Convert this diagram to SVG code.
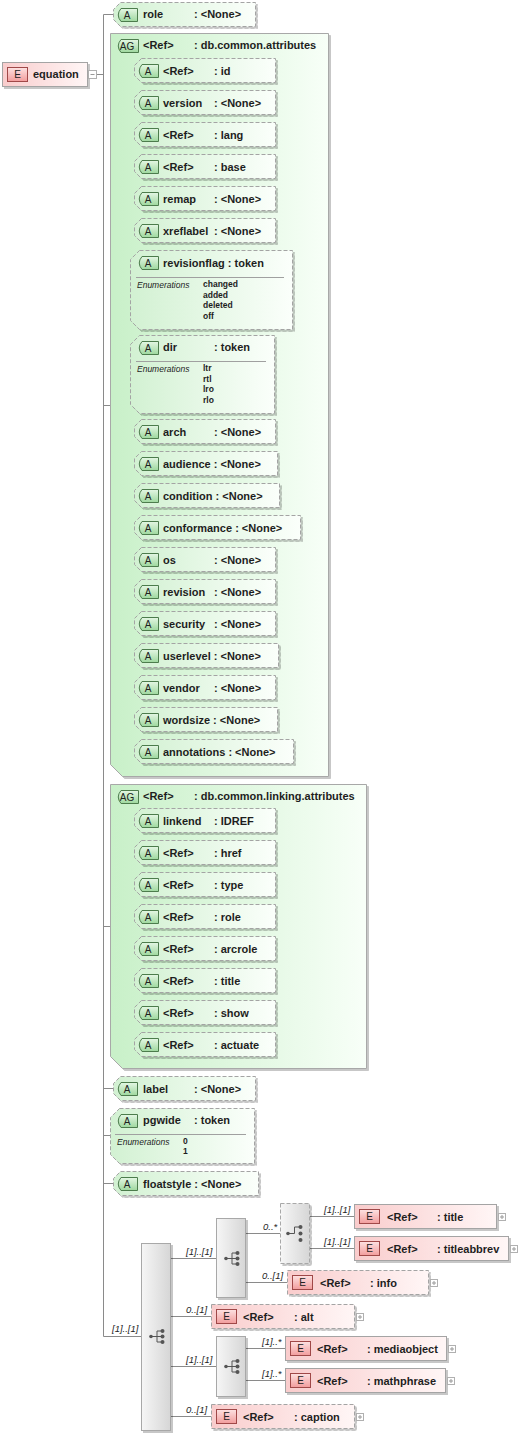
<svg xmlns="http://www.w3.org/2000/svg" xmlns:xlink="http://www.w3.org/1999/xlink" width="519" height="1435" viewBox="0 0 519 1435">
<defs>
<linearGradient id="gA" x1="0" y1="0" x2="1" y2="0"><stop offset="0" stop-color="#d2f1d2"/><stop offset="1" stop-color="#fbfffb"/></linearGradient>
<linearGradient id="gAG" x1="0" y1="0" x2="1" y2="0"><stop offset="0" stop-color="#c8f0c8"/><stop offset="1" stop-color="#f8fff8"/></linearGradient>
<linearGradient id="gE" x1="0" y1="0" x2="1" y2="0"><stop offset="0" stop-color="#f9cccc"/><stop offset="1" stop-color="#fff6f6"/></linearGradient>
<linearGradient id="gS" x1="0" y1="0" x2="1" y2="0"><stop offset="0" stop-color="#f6f6f6"/><stop offset="1" stop-color="#d6d6d6"/></linearGradient>
<linearGradient id="gBA" x1="0" y1="0" x2="0" y2="1"><stop offset="0" stop-color="#e4f7e4"/><stop offset="1" stop-color="#9ed89e"/></linearGradient>
<linearGradient id="gBE" x1="0" y1="0" x2="0" y2="1"><stop offset="0" stop-color="#fde2e2"/><stop offset="1" stop-color="#f29c9c"/></linearGradient>
<filter id="sh" x="-10%" y="-10%" width="130%" height="130%"><feDropShadow dx="2" dy="2" stdDeviation="0.5" flood-color="#000" flood-opacity="0.22"/></filter>
<path id="bA" d="M6 0.5 H22.5 V13.5 H6 Q0.5 7 6 0.5 Z"/>
<path id="bAG" d="M6 0.5 H23.5 V13.5 H6 Q0.5 7 6 0.5 Z"/>
<rect id="bE" x="0.5" y="0.5" width="20" height="14"/>
<g id="plus"><rect x="0.5" y="0.5" width="7" height="7" fill="#fff" stroke="#b0b0b0"/><path d="M2 4 H6 M4 2 V6" stroke="#999" fill="none"/></g>
<g id="seqIcon" fill="#555" stroke="#555"><path d="M-5 0 H1 M1 -5.5 V5.5 M1 -5.5 H6 M1 0 H6 M1 5.5 H6" fill="none"/><circle cx="-5" cy="0" r="1.8" stroke="none"/><circle cx="6.5" cy="-5.5" r="2" stroke="none"/><circle cx="6.5" cy="0" r="2" stroke="none"/><circle cx="6.5" cy="5.5" r="2" stroke="none"/></g>
<g id="choiceIcon" fill="#555" stroke="#555"><path d="M-6 0 H0.5 V-6.5 H6" fill="none"/><circle cx="-6" cy="0" r="1.8" stroke="none"/><circle cx="6.5" cy="-6.5" r="2" stroke="none"/><circle cx="6.5" cy="0" r="2" stroke="none"/><circle cx="6.5" cy="6.5" r="2" stroke="none"/></g>
</defs>
<style>
text{font-family:"Liberation Sans",Arial,sans-serif;fill:#1e1e1e}
.t{font-size:11px;font-weight:bold}
.bt{font-size:10px;text-anchor:middle;fill:#222}
.en{font-size:8.5px;font-style:italic}
.ev{font-size:8.5px;font-weight:bold}
.card{font-size:9.5px;font-style:italic}
.conn{stroke:#8a8a8a;fill:none;stroke-width:1}
.attr{fill:url(#gA);stroke:#a4a4a4;stroke-dasharray:4 2;filter:url(#sh)}
.ag{fill:url(#gAG);stroke:#a8a8a8;filter:url(#sh)}
.el{fill:url(#gE);stroke:#a4a4a4;filter:url(#sh)}
.elo{fill:url(#gE);stroke:#a4a4a4;stroke-dasharray:4 2;filter:url(#sh)}
.seq{fill:url(#gS);stroke:#a8a8a8;filter:url(#sh)}
.seqo{fill:url(#gS);stroke:#a8a8a8;stroke-dasharray:4 2;filter:url(#sh)}
.badgeA{fill:url(#gBA);stroke:#4c7c4c}
.badgeE{fill:url(#gBE);stroke:#a04848}
.sep{stroke:#a0a0a0;fill:none}
</style>

<g id="connectors">
<path class="conn" d="M96.5 74.5 H103.5 M103.5 14.5 V1336.5 M103.5 14.5 H113 M103.5 405.5 H110 M103.5 926.5 H110 M103.5 1088.5 H113 M103.5 1135.5 H110 M103.5 1183.5 H113 M103.5 1336.5 H141"/>
<path class="conn" d="M122.5 70.5 V751.5 M122.5 70.5 H134 M122.5 102.5 H134 M122.5 134.5 H134 M122.5 166.5 H134 M122.5 198.5 H134 M122.5 230.5 H134 M122.5 290.5 H130 M122.5 374.5 H130 M122.5 431.5 H134 M122.5 463.5 H134 M122.5 495.5 H134 M122.5 527.5 H134 M122.5 559.5 H134 M122.5 591.5 H134 M122.5 623.5 H134 M122.5 655.5 H134 M122.5 687.5 H134 M122.5 719.5 H134 M122.5 751.5 H134"/>
<path class="conn" d="M122.5 820.5 V1044.5 M122.5 820.5 H134 M122.5 852.5 H134 M122.5 884.5 H134 M122.5 916.5 H134 M122.5 948.5 H134 M122.5 980.5 H134 M122.5 1012.5 H134 M122.5 1044.5 H134"/>
<path class="conn" d="M171 1258.5 H216 M171 1316.5 H211 M171 1366.5 H216 M171 1416.5 H211 M246 1233.5 H280 M246 1282.5 H287 M310 1216.5 H354 M310 1248.5 H354 M246 1348.5 H285 M246 1380.5 H285"/>
<text class="card" x="112" y="1332">[1]..[1]</text>
<text class="card" x="186" y="1255">[1]..[1]</text>
<text class="card" x="186" y="1313">0..[1]</text>
<text class="card" x="186" y="1363">[1]..[1]</text>
<text class="card" x="186" y="1413">0..[1]</text>
<text class="card" x="263" y="1230">0..*</text>
<text class="card" x="262" y="1279">0..[1]</text>
<text class="card" x="324" y="1213">[1]..[1]</text>
<text class="card" x="324" y="1245">[1]..[1]</text>
<text class="card" x="262" y="1345">[1]..*</text>
<text class="card" x="262" y="1377">[1]..*</text>
</g>

<g id="equation">
<rect class="el" x="2.5" y="62.5" width="85" height="24"/>
<use href="#bE" x="7" y="67" class="badgeE"/>
<text class="bt" x="17.5" y="78">E</text>
<text class="t" x="33" y="78">equation</text>
<rect x="88.5" y="70.5" width="8" height="8" fill="#fff" stroke="#b0b0b0"/>
<path d="M90.5 74.5 H94.5" stroke="#999"/>
</g>

<g id="attr-role">
<path class="attr" d="M120.5 2.5 H255.5 V26.5 H120.5 L113.5 19.5 V9.5 Z"/>
<use href="#bA" x="115" y="8" class="badgeA"/><text class="bt" x="127" y="18.5">A</text>
<text class="t" x="143" y="18">role<tspan x="194">: &lt;None&gt;</tspan></text>
</g>

<g id="ag-common">
<path class="ag" d="M110.5 33.5 H328.5 V776.5 H122.5 L110.5 764.5 Z"/>
<use href="#bAG" x="115" y="39" class="badgeA"/><text class="bt" x="127" y="49.5">AG</text>
<text class="t" x="143" y="49">&lt;Ref&gt;<tspan x="194">: db.common.attributes</tspan></text>

<g id="attr-id"><path class="attr" d="M141.5 58.5 H275.5 V82.5 H141.5 L134.5 75.5 V65.5 Z"/><use href="#bA" x="136" y="64" class="badgeA"/><text class="bt" x="148" y="74.5">A</text><text class="t" x="163" y="74.5">&lt;Ref&gt;<tspan x="214">: id</tspan></text></g>
<g id="attr-version"><path class="attr" d="M141.5 90.5 H275.5 V114.5 H141.5 L134.5 107.5 V97.5 Z"/><use href="#bA" x="136" y="96" class="badgeA"/><text class="bt" x="148" y="106.5">A</text><text class="t" x="163" y="106.5">version<tspan x="214">: &lt;None&gt;</tspan></text></g>
<g id="attr-lang"><path class="attr" d="M141.5 122.5 H275.5 V146.5 H141.5 L134.5 139.5 V129.5 Z"/><use href="#bA" x="136" y="128" class="badgeA"/><text class="bt" x="148" y="138.5">A</text><text class="t" x="163" y="138.5">&lt;Ref&gt;<tspan x="214">: lang</tspan></text></g>
<g id="attr-base"><path class="attr" d="M141.5 154.5 H275.5 V178.5 H141.5 L134.5 171.5 V161.5 Z"/><use href="#bA" x="136" y="160" class="badgeA"/><text class="bt" x="148" y="170.5">A</text><text class="t" x="163" y="170.5">&lt;Ref&gt;<tspan x="214">: base</tspan></text></g>
<g id="attr-remap"><path class="attr" d="M141.5 186.5 H275.5 V210.5 H141.5 L134.5 203.5 V193.5 Z"/><use href="#bA" x="136" y="192" class="badgeA"/><text class="bt" x="148" y="202.5">A</text><text class="t" x="163" y="202.5">remap<tspan x="214">: &lt;None&gt;</tspan></text></g>
<g id="attr-xreflabel"><path class="attr" d="M141.5 218.5 H275.5 V242.5 H141.5 L134.5 235.5 V225.5 Z"/><use href="#bA" x="136" y="224" class="badgeA"/><text class="bt" x="148" y="234.5">A</text><text class="t" x="163" y="234.5">xreflabel<tspan x="214">: &lt;None&gt;</tspan></text></g>

<g id="attr-revisionflag">
<path class="attr" d="M139.5 250.5 H292.5 V329.5 H139.5 L130.5 320.5 V259.5 Z"/>
<use href="#bA" x="136" y="256" class="badgeA"/><text class="bt" x="148" y="266.5">A</text>
<text class="t" x="163" y="266.5">revisionflag : token</text>
<path class="sep" d="M136 277.5 H284"/>
<text class="en" x="137" y="288">Enumerations</text>
<text class="ev" x="203" y="287">changed</text>
<text class="ev" x="203" y="297.5">added</text>
<text class="ev" x="203" y="308">deleted</text>
<text class="ev" x="203" y="318.5">off</text>
</g>
<g id="attr-dir">
<path class="attr" d="M139.5 335.5 H274.5 V413.5 H139.5 L130.5 404.5 V344.5 Z"/>
<use href="#bA" x="136" y="341" class="badgeA"/><text class="bt" x="148" y="351.5">A</text>
<text class="t" x="163" y="351">dir<tspan x="214">: token</tspan></text>
<path class="sep" d="M136 361.5 H266"/>
<text class="en" x="137" y="372">Enumerations</text>
<text class="ev" x="203" y="371">ltr</text>
<text class="ev" x="203" y="381.5">rtl</text>
<text class="ev" x="203" y="392">lro</text>
<text class="ev" x="203" y="402.5">rlo</text>
</g>

<g id="attr-arch"><path class="attr" d="M141.5 419.5 H275.5 V443.5 H141.5 L134.5 436.5 V426.5 Z"/><use href="#bA" x="136" y="425" class="badgeA"/><text class="bt" x="148" y="435.5">A</text><text class="t" x="163" y="435.5">arch<tspan x="214">: &lt;None&gt;</tspan></text></g>
<g id="attr-audience"><path class="attr" d="M141.5 451.5 H277.5 V475.5 H141.5 L134.5 468.5 V458.5 Z"/><use href="#bA" x="136" y="457" class="badgeA"/><text class="bt" x="148" y="467.5">A</text><text class="t" x="163" y="467.5">audience : &lt;None&gt;</text></g>
<g id="attr-condition"><path class="attr" d="M141.5 483.5 H279.5 V507.5 H141.5 L134.5 500.5 V490.5 Z"/><use href="#bA" x="136" y="489" class="badgeA"/><text class="bt" x="148" y="499.5">A</text><text class="t" x="163" y="499.5">condition : &lt;None&gt;</text></g>
<g id="attr-conformance"><path class="attr" d="M141.5 515.5 H300.5 V539.5 H141.5 L134.5 532.5 V522.5 Z"/><use href="#bA" x="136" y="521" class="badgeA"/><text class="bt" x="148" y="531.5">A</text><text class="t" x="163" y="531.5">conformance : &lt;None&gt;</text></g>
<g id="attr-os"><path class="attr" d="M141.5 547.5 H275.5 V571.5 H141.5 L134.5 564.5 V554.5 Z"/><use href="#bA" x="136" y="553" class="badgeA"/><text class="bt" x="148" y="563.5">A</text><text class="t" x="163" y="563.5">os<tspan x="214">: &lt;None&gt;</tspan></text></g>
<g id="attr-revision"><path class="attr" d="M141.5 579.5 H275.5 V603.5 H141.5 L134.5 596.5 V586.5 Z"/><use href="#bA" x="136" y="585" class="badgeA"/><text class="bt" x="148" y="595.5">A</text><text class="t" x="163" y="595.5">revision<tspan x="214">: &lt;None&gt;</tspan></text></g>
<g id="attr-security"><path class="attr" d="M141.5 611.5 H275.5 V635.5 H141.5 L134.5 628.5 V618.5 Z"/><use href="#bA" x="136" y="617" class="badgeA"/><text class="bt" x="148" y="627.5">A</text><text class="t" x="163" y="627.5">security<tspan x="214">: &lt;None&gt;</tspan></text></g>
<g id="attr-userlevel"><path class="attr" d="M141.5 643.5 H278.5 V667.5 H141.5 L134.5 660.5 V650.5 Z"/><use href="#bA" x="136" y="649" class="badgeA"/><text class="bt" x="148" y="659.5">A</text><text class="t" x="163" y="659.5">userlevel : &lt;None&gt;</text></g>
<g id="attr-vendor"><path class="attr" d="M141.5 675.5 H275.5 V699.5 H141.5 L134.5 692.5 V682.5 Z"/><use href="#bA" x="136" y="681" class="badgeA"/><text class="bt" x="148" y="691.5">A</text><text class="t" x="163" y="691.5">vendor<tspan x="214">: &lt;None&gt;</tspan></text></g>
<g id="attr-wordsize"><path class="attr" d="M141.5 707.5 H277.5 V731.5 H141.5 L134.5 724.5 V714.5 Z"/><use href="#bA" x="136" y="713" class="badgeA"/><text class="bt" x="148" y="723.5">A</text><text class="t" x="163" y="723.5">wordsize : &lt;None&gt;</text></g>
<g id="attr-annotations"><path class="attr" d="M141.5 739.5 H293.5 V763.5 H141.5 L134.5 756.5 V746.5 Z"/><use href="#bA" x="136" y="745" class="badgeA"/><text class="bt" x="148" y="755.5">A</text><text class="t" x="163" y="755.5">annotations : &lt;None&gt;</text></g>
</g>

<g id="ag-linking">
<path class="ag" d="M110.5 784.5 H366.5 V1068.5 H122.5 L110.5 1056.5 Z"/>
<use href="#bAG" x="115" y="790" class="badgeA"/><text class="bt" x="127" y="800.5">AG</text>
<text class="t" x="143" y="800">&lt;Ref&gt;<tspan x="194">: db.common.linking.attributes</tspan></text>
<g id="attr-linkend"><path class="attr" d="M141.5 808.5 H275.5 V832.5 H141.5 L134.5 825.5 V815.5 Z"/><use href="#bA" x="136" y="814" class="badgeA"/><text class="bt" x="148" y="824.5">A</text><text class="t" x="163" y="824.5">linkend<tspan x="214">: IDREF</tspan></text></g>
<g id="attr-href"><path class="attr" d="M141.5 840.5 H275.5 V864.5 H141.5 L134.5 857.5 V847.5 Z"/><use href="#bA" x="136" y="846" class="badgeA"/><text class="bt" x="148" y="856.5">A</text><text class="t" x="163" y="856.5">&lt;Ref&gt;<tspan x="214">: href</tspan></text></g>
<g id="attr-type"><path class="attr" d="M141.5 872.5 H275.5 V896.5 H141.5 L134.5 889.5 V879.5 Z"/><use href="#bA" x="136" y="878" class="badgeA"/><text class="bt" x="148" y="888.5">A</text><text class="t" x="163" y="888.5">&lt;Ref&gt;<tspan x="214">: type</tspan></text></g>
<g id="attr-xlrole"><path class="attr" d="M141.5 904.5 H275.5 V928.5 H141.5 L134.5 921.5 V911.5 Z"/><use href="#bA" x="136" y="910" class="badgeA"/><text class="bt" x="148" y="920.5">A</text><text class="t" x="163" y="920.5">&lt;Ref&gt;<tspan x="214">: role</tspan></text></g>
<g id="attr-arcrole"><path class="attr" d="M141.5 936.5 H275.5 V960.5 H141.5 L134.5 953.5 V943.5 Z"/><use href="#bA" x="136" y="942" class="badgeA"/><text class="bt" x="148" y="952.5">A</text><text class="t" x="163" y="952.5">&lt;Ref&gt;<tspan x="214">: arcrole</tspan></text></g>
<g id="attr-title"><path class="attr" d="M141.5 968.5 H275.5 V992.5 H141.5 L134.5 985.5 V975.5 Z"/><use href="#bA" x="136" y="974" class="badgeA"/><text class="bt" x="148" y="984.5">A</text><text class="t" x="163" y="984.5">&lt;Ref&gt;<tspan x="214">: title</tspan></text></g>
<g id="attr-show"><path class="attr" d="M141.5 1000.5 H275.5 V1024.5 H141.5 L134.5 1017.5 V1007.5 Z"/><use href="#bA" x="136" y="1006" class="badgeA"/><text class="bt" x="148" y="1016.5">A</text><text class="t" x="163" y="1016.5">&lt;Ref&gt;<tspan x="214">: show</tspan></text></g>
<g id="attr-actuate"><path class="attr" d="M141.5 1032.5 H275.5 V1056.5 H141.5 L134.5 1049.5 V1039.5 Z"/><use href="#bA" x="136" y="1038" class="badgeA"/><text class="bt" x="148" y="1048.5">A</text><text class="t" x="163" y="1048.5">&lt;Ref&gt;<tspan x="214">: actuate</tspan></text></g>
</g>

<g id="attr-label"><path class="attr" d="M120.5 1076.5 H255.5 V1100.5 H120.5 L113.5 1093.5 V1083.5 Z"/><use href="#bA" x="115" y="1082" class="badgeA"/><text class="bt" x="127" y="1092.5">A</text><text class="t" x="143" y="1092.5">label<tspan x="194">: &lt;None&gt;</tspan></text></g>

<g id="attr-pgwide">
<path class="attr" d="M119.5 1108.5 H254.5 V1163.5 H119.5 L110.5 1154.5 V1117.5 Z"/>
<use href="#bA" x="115" y="1114" class="badgeA"/><text class="bt" x="127" y="1124.5">A</text>
<text class="t" x="143" y="1124">pgwide<tspan x="194">: token</tspan></text>
<path class="sep" d="M115 1134.5 H246"/>
<text class="en" x="117" y="1145">Enumerations</text>
<text class="ev" x="183" y="1144">0</text>
<text class="ev" x="183" y="1154">1</text>
</g>

<g id="attr-floatstyle"><path class="attr" d="M120.5 1171.5 H258.5 V1195.5 H120.5 L113.5 1188.5 V1178.5 Z"/><use href="#bA" x="115" y="1177" class="badgeA"/><text class="bt" x="127" y="1187.5">A</text><text class="t" x="143" y="1187.5">floatstyle : &lt;None&gt;</text></g>

<g id="seq-main"><rect class="seq" x="141.5" y="1243.5" width="29" height="187"/><use href="#seqIcon" x="156" y="1336.5"/></g>
<g id="seq-head"><rect class="seq" x="216.5" y="1218.5" width="29" height="79"/><use href="#seqIcon" x="231" y="1258.5"/></g>
<g id="choice-title"><rect class="seqo" x="280.5" y="1203.5" width="29" height="60"/><use href="#choiceIcon" x="294" y="1233.5"/></g>
<g id="seq-body"><rect class="seq" x="216.5" y="1336.5" width="29" height="60"/><use href="#seqIcon" x="231" y="1366.5"/></g>

<g id="el-title"><rect class="el" x="354.5" y="1204.5" width="142" height="24"/><use href="#bE" x="359" y="1209" class="badgeE"/><text class="bt" x="369.5" y="1220">E</text><text class="t" x="387" y="1220.5">&lt;Ref&gt;<tspan x="437">: title</tspan></text><use href="#plus" x="498" y="1213"/></g>
<g id="el-titleabbrev"><rect class="el" x="354.5" y="1236.5" width="154" height="24"/><use href="#bE" x="359" y="1241" class="badgeE"/><text class="bt" x="369.5" y="1252">E</text><text class="t" x="387" y="1252.5">&lt;Ref&gt;<tspan x="437">: titleabbrev</tspan></text><use href="#plus" x="510" y="1245"/></g>
<g id="el-info"><rect class="elo" x="287.5" y="1270.5" width="141" height="24"/><use href="#bE" x="292" y="1275" class="badgeE"/><text class="bt" x="302.5" y="1286">E</text><text class="t" x="320" y="1286.5">&lt;Ref&gt;<tspan x="370">: info</tspan></text><use href="#plus" x="430" y="1279"/></g>
<g id="el-alt"><rect class="elo" x="211.5" y="1304.5" width="143" height="24"/><use href="#bE" x="216" y="1309" class="badgeE"/><text class="bt" x="226.5" y="1320">E</text><text class="t" x="243" y="1320.5">&lt;Ref&gt;<tspan x="294">: alt</tspan></text><use href="#plus" x="356" y="1313"/></g>
<g id="el-mediaobject"><rect class="el" x="285.5" y="1336.5" width="161" height="24"/><use href="#bE" x="290" y="1341" class="badgeE"/><text class="bt" x="300.5" y="1352">E</text><text class="t" x="317" y="1352.5">&lt;Ref&gt;<tspan x="367">: mediaobject</tspan></text><use href="#plus" x="448" y="1345"/></g>
<g id="el-mathphrase"><rect class="el" x="285.5" y="1368.5" width="160" height="24"/><use href="#bE" x="290" y="1373" class="badgeE"/><text class="bt" x="300.5" y="1384">E</text><text class="t" x="317" y="1384.5">&lt;Ref&gt;<tspan x="367">: mathphrase</tspan></text><use href="#plus" x="447" y="1377"/></g>
<g id="el-caption"><rect class="elo" x="211.5" y="1404.5" width="143" height="24"/><use href="#bE" x="216" y="1409" class="badgeE"/><text class="bt" x="226.5" y="1420">E</text><text class="t" x="243" y="1420.5">&lt;Ref&gt;<tspan x="294">: caption</tspan></text><use href="#plus" x="356" y="1413"/></g>
</svg>
